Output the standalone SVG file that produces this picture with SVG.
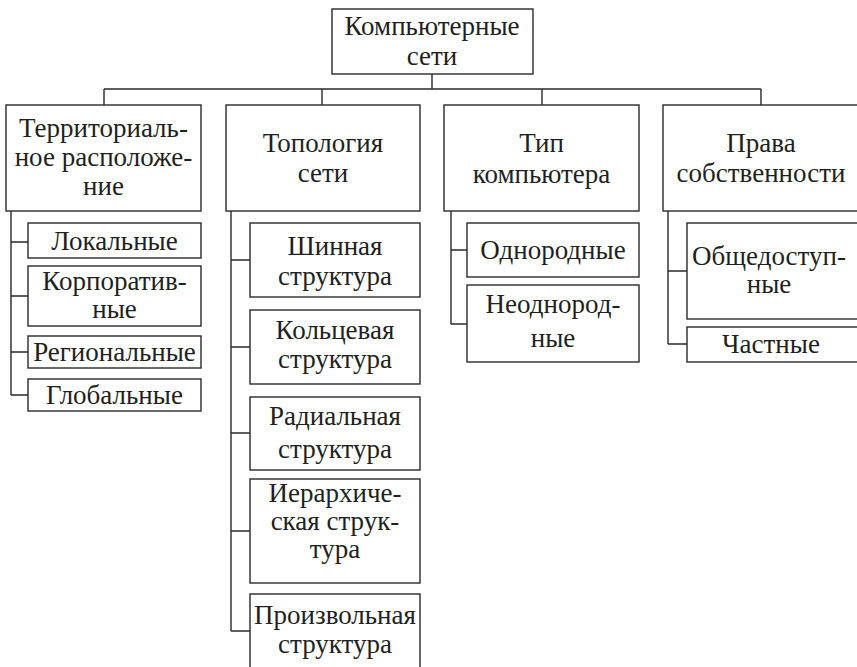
<svg xmlns="http://www.w3.org/2000/svg" width="857" height="667" viewBox="0 0 857 667">
<rect x="0" y="0" width="857" height="667" fill="#fff"/>
<g id="connectors" fill="none" stroke="#2a2a2a" stroke-width="1.4">
<path d="M432 74V89M104 89H761M104 89V105M322 89V105M542 89V105M761 89V105"/>
<path d="M11 211V395M11 242H28M11 296H28M11 352H28M11 395H28"/>
<path d="M231 211V631M231 260H250M231 347H250M231 433H250M231 531H250M231 631H250"/>
<path d="M451 211V324M451 250H467M451 324H467"/>
<path d="M668 211V344M668 271H687M668 344H687"/>
</g>
<g id="nodes" font-family="Liberation Serif" font-size="27" fill="#231f20" text-anchor="middle">
<g id="root"><rect x="332" y="9" width="201" height="65" fill="#fff" stroke="#2a2a2a" stroke-width="1.4"/><text x="432" y="35">Компьютерные</text><text x="432" y="65">сети</text></g>
<g id="terr"><rect x="6" y="105" width="195" height="106" fill="#fff" stroke="#2a2a2a" stroke-width="1.4"/><text x="103.5" y="137">Территориаль-</text><text x="103.5" y="166">ное расположе-</text><text x="103.5" y="195">ние</text></g>
<g id="topo"><rect x="226" y="105" width="194" height="106" fill="#fff" stroke="#2a2a2a" stroke-width="1.4"/><text x="323" y="152">Топология</text><text x="323" y="182">сети</text></g>
<g id="type"><rect x="444" y="105" width="195" height="106" fill="#fff" stroke="#2a2a2a" stroke-width="1.4"/><text x="541.5" y="152">Тип</text><text x="541.5" y="183">компьютера</text></g>
<g id="rights"><rect x="663" y="105" width="197" height="106" fill="#fff" stroke="#2a2a2a" stroke-width="1.4"/><text x="761" y="152">Права</text><text x="761" y="182">собственности</text></g>
<g id="local"><rect x="28" y="223" width="173" height="35" fill="#fff" stroke="#2a2a2a" stroke-width="1.4"/><text x="114.5" y="250">Локальные</text></g>
<g id="corp"><rect x="28" y="266" width="173" height="60" fill="#fff" stroke="#2a2a2a" stroke-width="1.4"/><text x="114.5" y="290">Корпоратив-</text><text x="114.5" y="318">ные</text></g>
<g id="region"><rect x="28" y="336" width="173" height="32" fill="#fff" stroke="#2a2a2a" stroke-width="1.4"/><text x="114.5" y="361">Региональные</text></g>
<g id="global"><rect x="28" y="379" width="173" height="32" fill="#fff" stroke="#2a2a2a" stroke-width="1.4"/><text x="114.5" y="404">Глобальные</text></g>
<g id="bus"><rect x="250" y="223" width="170" height="74" fill="#fff" stroke="#2a2a2a" stroke-width="1.4"/><text x="335" y="255">Шинная</text><text x="335" y="285">структура</text></g>
<g id="ring"><rect x="250" y="310" width="170" height="74" fill="#fff" stroke="#2a2a2a" stroke-width="1.4"/><text x="335" y="339">Кольцевая</text><text x="335" y="368">структура</text></g>
<g id="radial"><rect x="250" y="397" width="170" height="73" fill="#fff" stroke="#2a2a2a" stroke-width="1.4"/><text x="335" y="425">Радиальная</text><text x="335" y="458">структура</text></g>
<g id="hier"><rect x="250" y="479" width="170" height="104" fill="#fff" stroke="#2a2a2a" stroke-width="1.4"/><text x="335" y="502">Иерархиче-</text><text x="335" y="530">ская струк-</text><text x="335" y="558">тура</text></g>
<g id="arb"><rect x="250" y="594" width="170" height="80" fill="#fff" stroke="#2a2a2a" stroke-width="1.4"/><text x="335" y="624">Произвольная</text><text x="335" y="653">структура</text></g>
<g id="homo"><rect x="467" y="223" width="172" height="54" fill="#fff" stroke="#2a2a2a" stroke-width="1.4"/><text x="553" y="259">Однородные</text></g>
<g id="hetero"><rect x="467" y="285" width="172" height="77" fill="#fff" stroke="#2a2a2a" stroke-width="1.4"/><text x="553" y="313">Неоднород-</text><text x="553" y="347">ные</text></g>
<g id="public"><rect x="687" y="223" width="173" height="96" fill="#fff" stroke="#2a2a2a" stroke-width="1.4"/><text x="769" y="265">Общедоступ-</text><text x="769" y="293">ные</text></g>
<g id="private"><rect x="687" y="327" width="173" height="35" fill="#fff" stroke="#2a2a2a" stroke-width="1.4"/><text x="771" y="353">Частные</text></g>
</g>
</svg>
